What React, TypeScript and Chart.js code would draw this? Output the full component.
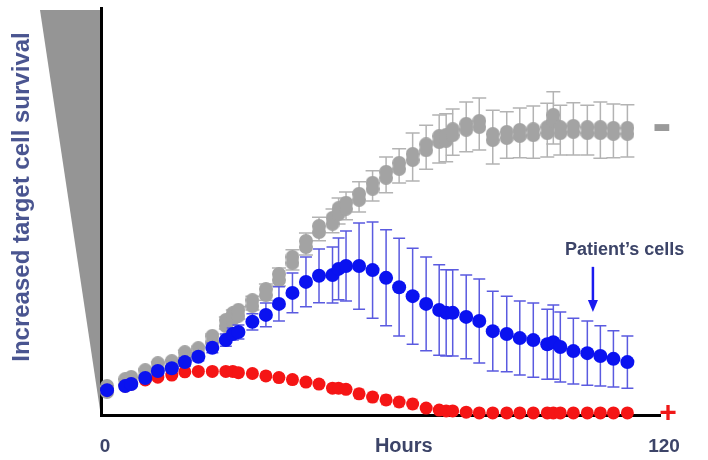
import React, { useEffect, useRef } from "react";
import { Chart, registerables } from "chart.js";

Chart.register(...registerables);

const hours = [1.3, 5.2, 6.5, 9.5, 12.2, 15.2, 18.0, 20.9, 23.9, 26.8, 28.3, 29.5, 32.5, 35.4, 38.2, 41.1, 44.0, 46.8, 49.7, 51.0, 52.6, 55.4, 58.3, 61.2, 64.0, 66.9, 69.8, 72.6, 74.1, 75.5, 78.4, 81.2, 84.1, 87.1, 89.9, 92.8, 95.8, 97.1, 98.6, 101.4, 104.4, 107.2, 110.0, 113.0];

const xTickLabels = ["0", "120"];
const xTickValues = [0, 120];

const grayMean = [6.4, 8.1, 8.6, 10.3, 12.0, 12.5, 14.7, 15.7, 18.7, 22.6, 24.3, 25.1, 27.5, 30.2, 33.9, 38.1, 42.0, 45.7, 47.7, 50.1, 51.4, 53.6, 56.3, 59.0, 61.2, 63.4, 65.8, 67.8, 68.1, 69.5, 70.8, 71.5, 68.3, 68.8, 69.3, 69.5, 70.0, 73.0, 70.0, 70.3, 70.0, 70.0, 69.8, 69.8];
const grayErr = [0.7, 0.7, 0.7, 1.0, 1.0, 1.0, 1.2, 1.2, 1.2, 1.5, 1.5, 1.5, 1.7, 2.0, 2.2, 2.5, 2.7, 2.9, 2.9, 3.2, 3.4, 3.7, 3.7, 4.4, 4.2, 5.9, 5.4, 5.9, 5.9, 5.7, 6.1, 6.4, 6.6, 5.7, 6.1, 6.4, 6.6, 6.4, 6.1, 6.4, 6.1, 6.9, 6.6, 6.4];

const blueMean = [6.1, 7.1, 7.6, 9.1, 10.8, 11.5, 13.0, 14.3, 16.5, 18.4, 19.9, 20.4, 22.9, 24.6, 27.3, 30.0, 32.7, 34.2, 34.4, 35.9, 36.6, 36.6, 35.6, 33.7, 31.4, 29.2, 27.3, 25.8, 25.1, 25.1, 24.1, 23.1, 20.6, 19.9, 18.9, 18.4, 17.4, 17.9, 16.7, 15.7, 15.2, 14.5, 13.8, 13.0];
const blueErr = [0.5, 0.5, 0.5, 0.7, 0.7, 0.7, 1.0, 1.0, 1.2, 1.5, 1.5, 1.7, 2.0, 2.9, 4.2, 4.9, 6.1, 6.6, 6.9, 7.6, 8.6, 10.6, 11.8, 11.8, 12.0, 11.8, 11.5, 11.1, 10.6, 10.6, 10.3, 10.3, 9.8, 9.3, 9.1, 9.1, 8.6, 9.1, 8.6, 8.1, 7.9, 7.4, 6.9, 6.4];

const redMean = [6.1, 7.1, 7.6, 8.6, 9.3, 9.8, 10.6, 10.7, 10.7, 10.7, 10.7, 10.4, 10.2, 9.6, 9.2, 8.7, 8.1, 7.6, 6.6, 6.6, 6.3, 5.2, 4.4, 3.7, 3.2, 2.7, 1.7, 1.2, 1.0, 1.0, 0.7, 0.5, 0.5, 0.5, 0.5, 0.5, 0.5, 0.5, 0.5, 0.5, 0.5, 0.5, 0.5, 0.5];
const redErr = [0.7, 0.7, 0.7, 0.7, 0.7, 0.7, 0.7, 0.7, 1.0, 1.0, 1.0, 1.0, 1.0, 1.0, 1.0, 1.0, 1.0, 1.0, 1.0, 1.0, 1.0, 1.2, 1.2, 1.2, 1.2, 1.2, 0.7, 0.7, 0.7, 0.7, 0.7, 0.5, 0.5, 0.5, 0.5, 0.5, 0.5, 0.5, 0.5, 0.5, 0.5, 0.5, 0.5, 0.5];

const yTitle = "Increased target cell survival";
const xTitle = "Hours";
const patientLabel = "Patient\u2019s cells";
const minusLabel = "-";
const plusLabel = "+";

const BLUE = "#0a12f0";
const RED = "#f51515";
const GRAY = "#a3a3a3";
const TEXT = "#3c4468";
const FONT = "'Liberation Sans', Arial, sans-serif";

export default function App() {
  const ref = useRef<HTMLCanvasElement>(null);

  useEffect(() => {
    const canvas = ref.current;
    if (!canvas) return;

    const grayImg = document.createElement("canvas");
    grayImg.width = 14;
    grayImg.height = 20;
    const gctx = grayImg.getContext("2d")!;
    gctx.fillStyle = GRAY;
    gctx.beginPath();
    gctx.arc(7, 7, 7, 0, Math.PI * 2);
    gctx.arc(7, 13, 7, 0, Math.PI * 2);
    gctx.fill();

    const errInfo: Record<number, { err: number[]; mean: number[]; color: string; cap: number; width: number }> = {
      0: { err: blueErr, mean: blueMean, color: "#5a5ae0", cap: 6, width: 1.5 },
      1: { err: redErr, mean: redMean, color: "#ff7070", cap: 5, width: 1 },
      2: { err: grayErr, mean: grayMean, color: "#b3b3b3", cap: 7, width: 1.5 },
    };

    const decor = {
      id: "decor",
      beforeDraw(chart: any) {
        const ctx = chart.ctx;
        const a = chart.chartArea;
        ctx.save();
        ctx.fillStyle = "#ffffff";
        ctx.fillRect(0, 0, chart.width, chart.height);
        ctx.fillStyle = "#959595";
        ctx.beginPath();
        ctx.moveTo(a.left - 61, a.top + 2);
        ctx.lineTo(a.left - 1, a.top + 2);
        ctx.lineTo(a.left - 1, a.bottom - 5);
        ctx.closePath();
        ctx.fill();
        ctx.translate(22, 197);
        ctx.rotate(-Math.PI / 2);
        ctx.fillStyle = "#4a5590";
        ctx.font = `bold 24px ${FONT}`;
        ctx.textAlign = "center";
        ctx.textBaseline = "middle";
        ctx.fillText(yTitle, 0, 0);
        ctx.restore();
      },
      beforeDatasetDraw(chart: any, args: any) {
        const info = errInfo[args.index];
        if (!info) return;
        const ctx = chart.ctx;
        const xs = chart.scales.x;
        const ys = chart.scales.y;
        ctx.save();
        ctx.strokeStyle = info.color;
        ctx.lineWidth = info.width;
        for (let i = 0; i < hours.length; i++) {
          const px = xs.getPixelForValue(hours[i]);
          const top = ys.getPixelForValue(info.mean[i] + info.err[i]);
          const bot = ys.getPixelForValue(info.mean[i] - info.err[i]);
          ctx.beginPath();
          ctx.moveTo(px, top);
          ctx.lineTo(px, bot);
          ctx.moveTo(px - info.cap, top);
          ctx.lineTo(px + info.cap, top);
          ctx.moveTo(px - info.cap, bot);
          ctx.lineTo(px + info.cap, bot);
          ctx.stroke();
        }
        ctx.restore();
      },
      afterDraw(chart: any) {
        const ctx = chart.ctx;
        const xs = chart.scales.x;
        const ys = chart.scales.y;
        ctx.save();
        ctx.textBaseline = "alphabetic";
        ctx.fillStyle = TEXT;
        ctx.font = `bold 20px ${FONT}`;
        ctx.textAlign = "center";
        ctx.fillText(xTitle, xs.getPixelForValue(65), 452);
        ctx.font = `bold 18px ${FONT}`;
        ctx.textAlign = "left";
        ctx.fillText(patientLabel, xs.getPixelForValue(99.6), ys.getPixelForValue(39.3));
        const ax = xs.getPixelForValue(105.6);
        const ay1 = ys.getPixelForValue(36.4);
        const ay2 = ys.getPixelForValue(25.3);
        ctx.strokeStyle = "#1a1af0";
        ctx.fillStyle = "#1a1af0";
        ctx.lineWidth = 2.5;
        ctx.beginPath();
        ctx.moveTo(ax, ay1);
        ctx.lineTo(ax, ay2 - 10);
        ctx.stroke();
        ctx.beginPath();
        ctx.moveTo(ax - 5, ay2 - 12);
        ctx.lineTo(ax + 5, ay2 - 12);
        ctx.lineTo(ax, ay2);
        ctx.closePath();
        ctx.fill();
        ctx.textAlign = "center";
        ctx.fillStyle = "#9a9a9a";
        ctx.font = `bold 58px ${FONT}`;
        ctx.fillText(minusLabel, 662, 143);
        ctx.fillStyle = "#f01818";
        ctx.font = `bold 30px ${FONT}`;
        ctx.fillText(plusLabel, 668, 422);
        ctx.restore();
      },
    };

    const chart = new Chart(canvas, {
      type: "scatter",
      data: {
        datasets: [
          {
            label: "Patient",
            data: hours.map((h, i) => ({ x: h, y: blueMean[i] })),
            backgroundColor: BLUE,
            borderColor: BLUE,
            pointRadius: 7,
            borderWidth: 0,
            showLine: false,
            clip: false,
            order: 0,
          },
          {
            label: "+",
            data: hours.map((h, i) => ({ x: h, y: redMean[i] })),
            backgroundColor: RED,
            borderColor: RED,
            pointRadius: 6.5,
            borderWidth: 0,
            showLine: false,
            clip: false,
            order: 1,
          },
          {
            label: "-",
            data: hours.map((h, i) => ({ x: h, y: grayMean[i] })),
            backgroundColor: GRAY,
            borderColor: GRAY,
            pointStyle: grayImg as any,
            pointRadius: 7,
            borderWidth: 0,
            showLine: false,
            clip: false,
            order: 2,
          },
        ],
      },
      options: {
        responsive: false,
        animation: false,
        devicePixelRatio: 1,
        layout: { padding: { top: 8, right: 48, left: 0, bottom: 0 } },
        plugins: { legend: { display: false }, tooltip: { enabled: false } },
        scales: {
          x: {
            type: "linear",
            min: 0,
            max: 120,
            z: 1,
            grid: { display: false, drawTicks: false },
            border: { color: "#000000", width: 3 },
            ticks: {
              color: TEXT,
              font: { family: FONT, weight: "bold", size: 19 },
              padding: 20,
              labelOffset: 4,
              maxRotation: 0,
              callback: (v: any) => {
                const idx = xTickValues.indexOf(Number(v));
                return idx >= 0 ? xTickLabels[idx] : "";
              },
            },
            afterBuildTicks: (s: any) => {
              s.ticks = xTickValues.map((v) => ({ value: v }));
            },
            afterFit: (s: any) => {
              s.height = 45;
            },
          },
          y: {
            min: 0,
            max: 100,
            grid: { display: false, drawTicks: false },
            border: { color: "#000000", width: 3 },
            ticks: { display: false },
            afterFit: (s: any) => {
              s.width = 101;
            },
          },
        },
      } as any,
      plugins: [decor],
    });

    return () => chart.destroy();
  }, []);

  return (
    <div style={{ position: "absolute", left: 0, top: 0, width: 708, height: 460, background: "#fff" }}>
      <canvas ref={ref} width={708} height={460} style={{ width: 708, height: 460, display: "block" }} />
    </div>
  );
}
